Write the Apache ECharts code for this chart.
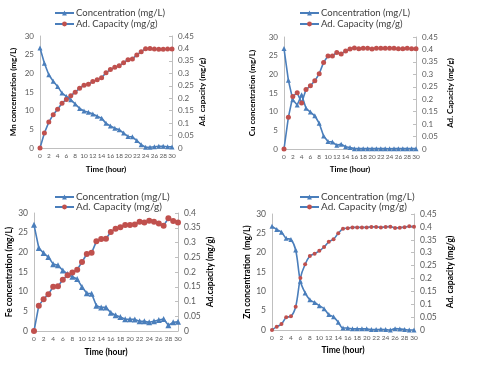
<!DOCTYPE html>
<html><head><meta charset="utf-8">
<script src="https://cdn.jsdelivr.net/npm/echarts@6/dist/echarts.min.js"></script>
<style>html,body{margin:0;padding:0;background:#fff}#c{width:480px;height:388px}</style>
</head><body><div id="c"></div>
<script>
var hours = [0,1,2,3,4,5,6,7,8,9,10,11,12,13,14,15,16,17,18,19,20,21,22,23,24,25,26,27,28,29,30];
var xTicks = [0,2,4,6,8,10,12,14,16,18,20,22,24,26,28,30];
var concName = 'Concentration (mg/L)';
var capName = 'Ad. Capacity (mg/g)';

var mnConc = [26.8,22.7,19.6,17.9,16.5,14.7,13.8,12.9,11.8,10.6,9.9,9.6,9.1,8.5,8.0,6.6,5.9,5.3,4.9,4.0,3.1,3.0,2.0,0.9,0.2,0.2,0.35,0.45,0.45,0.35,0.3];
var mnCap = [0,0.06,0.104,0.134,0.156,0.18,0.195,0.21,0.224,0.24,0.252,0.256,0.267,0.274,0.282,0.302,0.315,0.324,0.33,0.343,0.355,0.358,0.374,0.387,0.399,0.4,0.398,0.397,0.397,0.398,0.398];

var cuConc = [26.9,18.4,13.2,11.8,14.5,10.9,9.9,8.9,6.9,3.5,2.0,1.9,1.0,1.3,0.6,0.4,0.1,0.1,0.1,0.1,0.1,0.1,0.1,0.1,0.05,0.1,0.1,0.1,0.1,0.1,0.1];
var cuCap = [0,0.128,0.211,0.226,0.185,0.239,0.254,0.274,0.302,0.348,0.374,0.374,0.388,0.382,0.394,0.402,0.406,0.403,0.405,0.405,0.402,0.405,0.405,0.405,0.405,0.405,0.403,0.403,0.405,0.403,0.403];

var feConc = [27.0,21.1,19.8,18.8,17.0,16.7,15.4,14.5,13.8,13.2,11.2,9.6,9.5,6.4,6.0,6.0,4.65,4.0,3.55,3.0,3.0,2.95,2.45,2.45,2.2,2.5,2.8,3.05,1.45,2.2,2.35];
var feCap = [0,0.086,0.108,0.125,0.15,0.152,0.174,0.189,0.198,0.208,0.234,0.261,0.265,0.304,0.312,0.313,0.336,0.347,0.352,0.359,0.359,0.361,0.37,0.368,0.374,0.37,0.364,0.357,0.382,0.373,0.368];

var znConc = [26.8,26.0,25.3,23.7,23.4,20.7,12.6,9.6,7.8,7.1,6.3,5.5,4.0,3.4,2.0,0.5,0.5,0.3,0.3,0.3,0.3,0.1,0.1,0.2,0.1,0.0,0.35,0.25,0.15,0.0,0.0];
var znCap = [0,0.013,0.023,0.049,0.053,0.09,0.202,0.255,0.287,0.296,0.307,0.322,0.342,0.352,0.375,0.393,0.395,0.398,0.398,0.398,0.398,0.4,0.4,0.398,0.4,0.401,0.396,0.397,0.399,0.402,0.401];

var leftMax = [30,30,30,30];
var rightMax = [0.45,0.45,0.4,0.45];
var leftNames = ['Mn concentration (mg/L)','Cu concentration (mg/L)','Fe concentration (mg/L)','Zn concentration  (mg/L)'];
var rightNames = ['Ad. capacity (mg/g)','Ad. Capacity (mg/g)','Ad.capacity (mg/g)','Ad. capacity (mg/g)'];
var concData = [mnConc, cuConc, feConc, znConc];
var capData = [mnCap, cuCap, feCap, znCap];

var BLUE = '#4a7ebb', RED = '#c0504d', FONT = 'Lato';
var grids = [
  {left:40, top:36, width:132, height:112},
  {left:284, top:37, width:132, height:112},
  {left:34, top:213, width:144, height:118},
  {left:272, top:214, width:142, height:116}
];
var legendPos = [{left:54,top:8},{left:299,top:8},{left:54,top:192},{left:299,top:192}];
var legendGap = [1,1,0,0];
var legendFs = [9.5,9.5,10,10];
var fs = [8,8,8.5,8.5];
var leftGap = [23,28,18,16];
var rightGap = [26,30,28,32];
var xGap = [17,16,17,16];
var smooth = [false,false,false,true];
var triSize = [5,5,6,5];
var cirSize = [5,5,6,4];

function pairs(arr){ return hours.map(function(h,i){ return [h, arr[i]]; }); }

var xAxis=[], yAxis=[], series=[], legend=[];
for (var p=0;p<4;p++){
  xAxis.push({gridIndex:p, type:'value', min:0, max:30, interval:2,
    name:'Time (hour)', nameLocation:'middle', nameGap:xGap[p],
    nameTextStyle:{fontFamily:FONT,fontWeight:'bold',fontSize:fs[p],color:'#000'},
    axisLine:{show:true,lineStyle:{color:'#bfbfbf'}}, axisTick:{show:false},
    splitLine:{show:false},
    axisLabel:{fontFamily:FONT,fontSize:6.5,color:'#595959',margin:4,
      formatter:function(v){ return xTicks.indexOf(v)>=0 ? String(v) : ''; }}});
  yAxis.push({gridIndex:p, type:'value', min:0, max:leftMax[p], interval:5, position:'left',
    name:leftNames[p], nameLocation:'middle', nameRotate:90, nameGap:leftGap[p],
    nameTextStyle:{fontFamily:FONT,fontWeight:'bold',fontSize:fs[p],color:'#000'},
    axisLine:{show:true,lineStyle:{color:'#bfbfbf'}}, axisTick:{show:false}, splitLine:{show:false},
    axisLabel:{fontFamily:FONT,fontSize:fs[p],color:'#595959',margin:6}});
  yAxis.push({gridIndex:p, type:'value', min:0, max:rightMax[p], interval:0.05, position:'right',
    name:rightNames[p], nameLocation:'middle', nameRotate:90, nameGap:rightGap[p],
    nameTextStyle:{fontFamily:FONT,fontWeight:'bold',fontSize:fs[p],color:'#000'},
    axisLine:{show:true,lineStyle:{color:'#bfbfbf'}}, axisTick:{show:true,inside:true,length:3,lineStyle:{color:'#bfbfbf'}},
    splitLine:{show:false},
    axisLabel:{fontFamily:FONT,fontSize:fs[p],color:'#595959',margin:6,
      formatter:function(v){ return String(Math.round(v*100)/100); }}});
  series.push({name:concName, type:'line', xAxisIndex:p, yAxisIndex:2*p, data:pairs(concData[p]),
    smooth:smooth[p]?0.35:false, symbol:'triangle', symbolSize:triSize[p], showAllSymbol:true,
    lineStyle:{color:BLUE,width:1.6}, itemStyle:{color:BLUE}, animation:false});
  series.push({name:capName, type:'line', xAxisIndex:p, yAxisIndex:2*p+1, data:pairs(capData[p]),
    smooth:smooth[p]?0.35:false, symbol:'circle', symbolSize:cirSize[p], showAllSymbol:true,
    lineStyle:{color:BLUE,width:1.6}, itemStyle:{color:RED}, animation:false});
  legend.push({left:legendPos[p].left, top:legendPos[p].top, orient:'vertical', itemGap:legendGap[p],
    padding:0, itemWidth:19, itemHeight:6, selectedMode:false, data:[concName, capName],
    textStyle:{fontFamily:FONT,fontSize:legendFs[p],color:'#404040',padding:[0,0,0,-3]}});
}

var chart = echarts.init(document.getElementById('c'));
chart.setOption({backgroundColor:'#fff', animation:false, grid:grids, xAxis:xAxis, yAxis:yAxis, series:series, legend:legend});
</script></body></html>
